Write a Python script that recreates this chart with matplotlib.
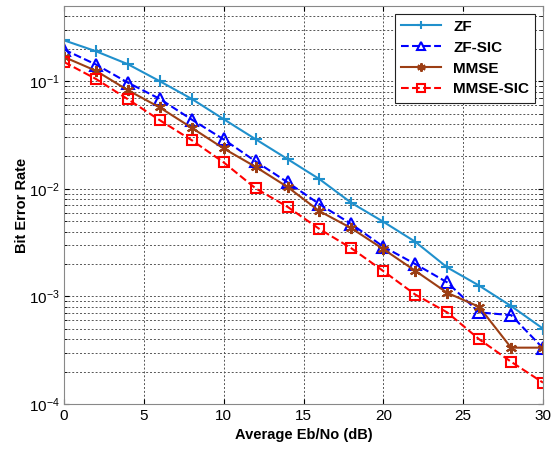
import matplotlib
matplotlib.use('Agg')
import matplotlib.pyplot as plt
from matplotlib.ticker import LogLocator, NullFormatter

plt.rcParams['font.family'] = ['Liberation Sans', 'DejaVu Sans']

# --- dados ---
snr_db = [0, 2, 4, 6, 8, 10, 12, 14, 16, 18, 20, 22, 24, 26, 28, 30]
ber_zf = [0.24, 0.19, 0.144, 0.100, 0.0685, 0.0444, 0.0289, 0.0189, 0.0123, 0.0074,
          0.00494, 0.00322, 0.00186, 0.00126, 0.000814, 0.000502]
ber_zf_sic = [0.197, 0.143, 0.097, 0.0685, 0.044, 0.0288, 0.018, 0.0115, 0.0072, 0.0047,
              0.0029, 0.0020, 0.00135, 0.00071, 0.00067, 0.00033]
ber_mmse = [0.168, 0.125, 0.0825, 0.057, 0.0369, 0.0237, 0.016, 0.0104, 0.0062, 0.0043,
            0.00275, 0.00173, 0.00108, 0.0008, 0.000334, 0.000334]
ber_mmse_sic = [0.151, 0.105, 0.068, 0.0434, 0.0283, 0.0176, 0.0101, 0.0068, 0.00423, 0.0028,
                0.00172, 0.00104, 0.00071, 0.0004, 0.000247, 0.000158]
rotulos = ['ZF', 'ZF-SIC', 'MMSE', 'MMSE-SIC']

fig = plt.figure(figsize=(5.59, 4.49), dpi=100)
ax = fig.add_axes([0.1145, 0.1002, 0.8569, 0.8864])

ax.semilogy(snr_db, ber_zf, '-', color='#2090cc', marker='+', markersize=9,
            markeredgewidth=1.5, linewidth=1.5, label=rotulos[0])
ax.semilogy(snr_db, ber_zf_sic, '--', color='#0000ff', marker='^', markersize=8,
            markerfacecolor='none', markeredgewidth=1.5, linewidth=1.5, label=rotulos[1])
ax.semilogy(snr_db, ber_mmse, '-', color='#9c3e14', marker=(6, 2, 0), markersize=8,
            markeredgewidth=1.5, linewidth=1.5, label=rotulos[2])
ax.semilogy(snr_db, ber_mmse_sic, '--', color='#ff0000', marker='s', markersize=7,
            markerfacecolor='none', markeredgewidth=1.5, linewidth=1.5, label=rotulos[3])

ax.set_xlim(0, 30)
ax.set_ylim(1e-4, 0.5)
ax.set_xticks([0, 5, 10, 15, 20, 25, 30])
ax.yaxis.set_major_locator(LogLocator(base=10, numticks=10))
ax.yaxis.set_minor_locator(LogLocator(base=10, subs=range(2, 10), numticks=10))
ax.yaxis.set_minor_formatter(NullFormatter())

ax.grid(True, which='major', linestyle=(0, (2, 2)), color='#555555', linewidth=0.7)
ax.grid(True, which='minor', axis='y', linestyle=(0, (2, 2)), color='#555555', linewidth=0.7)
ax.set_axisbelow(True)

ax.tick_params(which='both', direction='in', labelsize=11, top=True, right=True)
ax.tick_params(axis='y', pad=3)
for lado in ax.spines.values():
    lado.set_color('#888888')

ax.set_xlabel('Average Eb/No (dB)', fontsize=10.5, fontweight='bold')
ax.set_ylabel('Bit Error Rate', fontsize=10.5, fontweight='bold', labelpad=0)

leg = ax.legend(loc='upper right', prop={'weight': 'bold', 'size': 11}, fancybox=False,
                framealpha=1, edgecolor='#222222', handlelength=2.6, borderpad=0.4,
                labelspacing=0.45)
leg.get_frame().set_linewidth(0.8)
for h in leg.legend_handles:
    h.set_markersize(6)

fig.savefig('out.png', dpi=100)
